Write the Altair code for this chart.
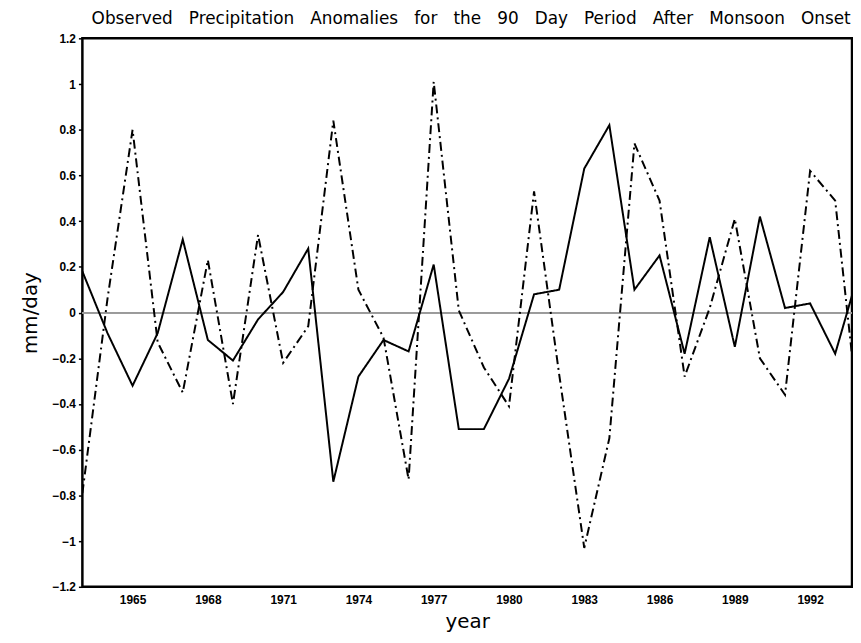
import altair as alt
import pandas as pd

years = list(range(1963, 1995))
solid = [0.18, -0.09, -0.32, -0.09, 0.32, -0.12, -0.21, -0.03, 0.09, 0.28,
         -0.74, -0.28, -0.12, -0.17, 0.21, -0.51, -0.51, -0.29, 0.08, 0.10,
         0.63, 0.82, 0.10, 0.25, -0.18, 0.33, -0.15, 0.42, 0.02, 0.04,
         -0.18, 0.20]
dashdot = [-0.79, 0.06, 0.80, -0.13, -0.35, 0.23, -0.40, 0.34, -0.22, -0.06,
           0.84, 0.10, -0.11, -0.73, 1.01, 0.01, -0.24, -0.41, 0.53, -0.27,
           -1.03, -0.55, 0.74, 0.49, -0.28, 0.02, 0.41, -0.20, -0.36, 0.62,
           0.49, -0.52]
series_names = ["solid", "dashdot"]
x_ticks = list(range(1965, 1993, 3))
y_ticks = [-1.2, -1.0, -0.8, -0.6, -0.4, -0.2, 0.0, 0.2, 0.4, 0.6, 0.8, 1.0, 1.2]
title_words = ["Observed", "Precipitation", "Anomalies", "for", "the", "90",
               "Day", "Period", "After", "Monsoon", "Onset"]

df = pd.DataFrame({
    "year": years * 2,
    "value": solid + dashdot,
    "series": [series_names[0]] * len(years) + [series_names[1]] * len(years),
})

x_scale = alt.Scale(domain=[1963, 1993.67], nice=False, zero=False)
y_scale = alt.Scale(domain=[-1.2, 1.2], nice=False)

zero = alt.Chart(df).mark_rule(color="#9a9a9a", strokeWidth=1.2).encode(
    y=alt.datum(0, scale=y_scale)
)

lines = alt.Chart(df).mark_line(color="black", strokeWidth=2, clip=True).encode(
    x=alt.X("year:Q", scale=x_scale,
            axis=alt.Axis(values=x_ticks, format="d", title="year", ticks=False,
                          grid=False, domain=False, labelFont="Liberation Sans",
                          labelFontWeight="bold", labelFontSize=12, labelColor="black",
                          labelPadding=8, titleFont="DejaVu Sans", titleFontSize=20,
                          titleFontWeight="normal", titleColor="black", titlePadding=6)),
    y=alt.Y("value:Q", scale=y_scale,
            axis=alt.Axis(values=y_ticks, format="~g", title="mm/day", ticks=True,
                          tickSize=4, tickColor="black", tickWidth=1.5,
                          grid=False, domain=False, labelFont="Liberation Sans",
                          labelFontWeight="bold", labelFontSize=12, labelColor="black",
                          labelPadding=3, titleFont="DejaVu Sans", titleFontSize=20,
                          titleFontWeight="normal", titleColor="black", titlePadding=12)),
    strokeDash=alt.StrokeDash("series:N",
                              scale=alt.Scale(domain=series_names, range=[[1, 0], [9, 4, 2, 4]]),
                              legend=None),
    detail="series:N",
)

chart = alt.layer(zero, lines).properties(
    width=776,
    height=553,
    padding={"left": 12, "top": 0, "right": 0, "bottom": 0},
    title=alt.TitleParams(
        "\u00a0\u00a0 ".join(title_words),
        font="DejaVu Sans", fontSize=17, fontWeight="normal", color="black",
        anchor="middle", dx=4, offset=4,
    ),
).configure_view(stroke="black", strokeWidth=2.5)

chart.save("out.html", embed_options={"renderer": "svg", "actions": False})
